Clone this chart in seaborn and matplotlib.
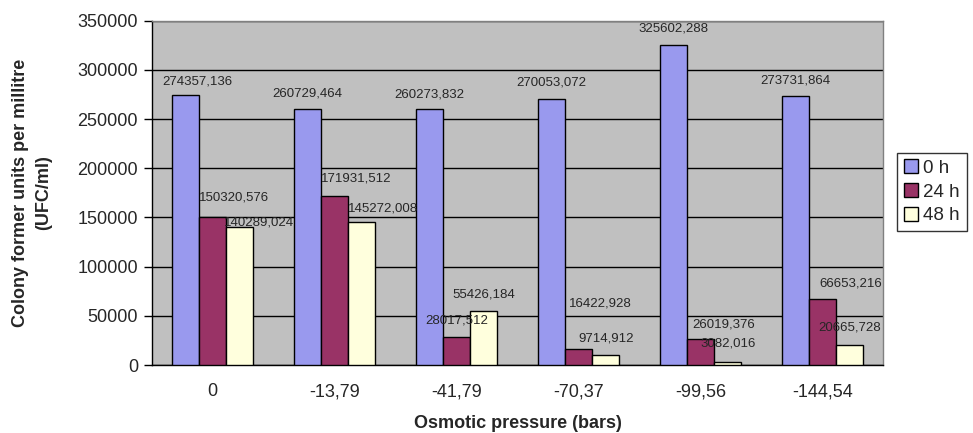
import pandas as pd
import matplotlib
matplotlib.use("Agg")
import matplotlib.pyplot as plt
import seaborn as sns

# Data
pressures = ["0", "-13,79", "-41,79", "-70,37", "-99,56", "-144,54"]
times = ["0 h", "24 h", "48 h"]
ufc_0h = [274357.136, 260729.464, 260273.832, 270053.072, 325602.288, 273731.864]
ufc_24h = [150320.576, 171931.512, 28017.512, 16422.928, 26019.376, 66653.216]
ufc_48h = [140289.024, 145272.008, 55426.184, 9714.912, 3082.016, 20665.728]

rows = []
for t, vals in zip(times, [ufc_0h, ufc_24h, ufc_48h]):
    for p, v in zip(pressures, vals):
        rows.append({"Pressure": p, "Time": t, "UFC": v})
df = pd.DataFrame(rows)

# label nudges (pixels) so the data labels sit like in the original
label_dx = [[12, 0, 0, 0, 0, 0],
            [21, 21, 0, 22, 23, 28],
            [19, 21, 0, 0, 0, 0]]
label_dy = [[14, 15, 15, 17, 16, 15],
            [20, 17, 17, 45, 15, 16],
            [5, 14, 16, 17, 18, 17]]

sns.set_style("white")
plt.rcParams["font.family"] = ["Liberation Sans", "DejaVu Sans"]

fig = plt.figure(figsize=(9.73, 4.33), dpi=100)
ax = fig.add_axes([0.156, 0.157, 0.752, 0.795])
ax.set_facecolor("#C0C0C0")

palette = {"0 h": "#9999EE", "24 h": "#993366", "48 h": "#FFFFDD"}
sns.barplot(data=df, x="Pressure", y="UFC", hue="Time", order=pressures,
            hue_order=times, palette=palette, width=0.667, gap=0,
            edgecolor="black", linewidth=1, saturation=1, ax=ax, zorder=3)

# data labels
for k, cont in enumerate(ax.containers):
    for j, bar in enumerate(cont):
        h = bar.get_height()
        ax.annotate(f"{h:.3f}".replace(".", ","),
                    (bar.get_x() + bar.get_width() / 2, h),
                    xytext=(label_dx[k][j], label_dy[k][j]),
                    textcoords="offset pixels",
                    ha="center", va="center", fontsize=9.5, zorder=5)

ax.set_ylim(0, 350000)
ax.set_xlim(-0.5, len(pressures) - 0.5)
ax.set_yticks(range(0, 350001, 50000))
ax.yaxis.grid(True, color="black", linewidth=1, zorder=0)
ax.set_axisbelow(True)

# category ticks at boundaries, labels at centers
ax.set_xticks([i - 0.5 for i in range(len(pressures) + 1)])
ax.set_xticklabels([])
ax.set_xticks(range(len(pressures)), minor=True)
ax.set_xticklabels(pressures, minor=True)
ax.tick_params(axis="x", which="major", length=6, width=1, color="black", direction="out")
ax.tick_params(axis="x", which="minor", length=0, labelsize=13, pad=13)
ax.tick_params(axis="y", length=6, width=1, color="black", direction="out",
               labelsize=13, left=True, pad=4)

for s in ["left", "bottom"]:
    ax.spines[s].set_color("black")
    ax.spines[s].set_linewidth(1)
for s in ["top", "right"]:
    ax.spines[s].set_color("#808080")
    ax.spines[s].set_linewidth(1)

ax.set_xlabel("Osmotic pressure (bars)", fontsize=13, fontweight="bold", labelpad=11)
ax.set_ylabel("Colony former units per millitre\n(UFC/ml)", fontsize=13,
              fontweight="bold", labelpad=18, linespacing=1.5)

leg = ax.legend(loc="center left", bbox_to_anchor=(0.922, 0.557),
                bbox_transform=fig.transFigure, frameon=True, fancybox=False,
                fontsize=13.5, handlelength=0.75, handleheight=0.75,
                handletextpad=0.3, borderpad=0.35, labelspacing=0.35,
                borderaxespad=0, title=None)
leg.get_frame().set_edgecolor("black")
leg.get_frame().set_linewidth(1)

fig.savefig("out.png", dpi=100)
